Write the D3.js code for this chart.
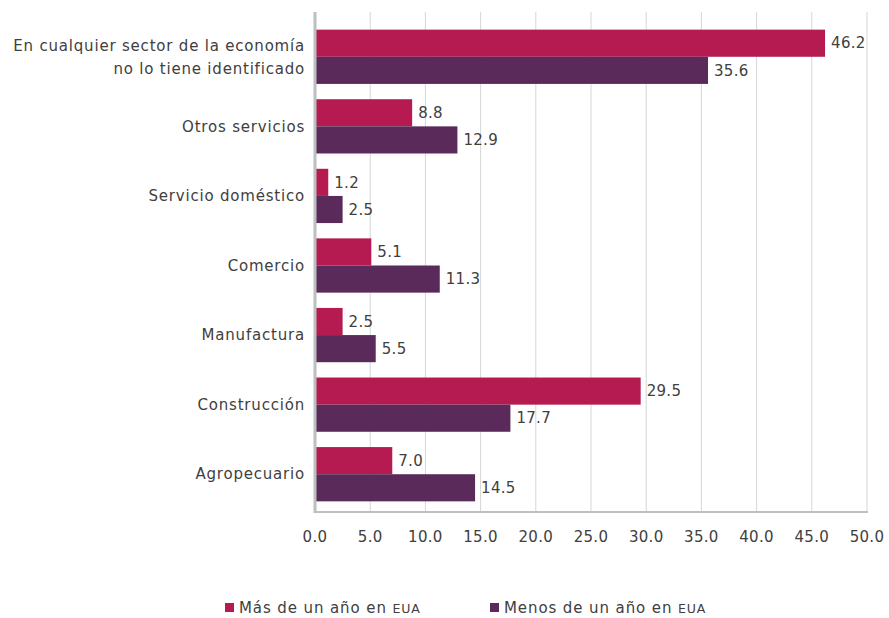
<!DOCTYPE html>
<html><head><meta charset="utf-8">
<script src="https://cdn.jsdelivr.net/npm/d3@7"></script>
<style>body{margin:0;background:#fff}svg{display:block}</style>
</head><body><svg id="c" width="889" height="618"></svg>
<script>
const categories = [["En cualquier sector de la economía","no lo tiene identificado"],["Otros servicios"],["Servicio doméstico"],["Comercio"],["Manufactura"],["Construcción"],["Agropecuario"]];
const masDeUnAno = [46.2, 8.8, 1.2, 5.1, 2.5, 29.5, 7.0];
const menosDeUnAno = [35.6, 12.9, 2.5, 11.3, 5.5, 17.7, 14.5];
const seriesNames = ["Más de un año en ", "Menos de un año en "];
const colors = ["#b51b50", "#5a2a5a"];
const ticks = [0,5,10,15,20,25,30,35,40,45,50];

const svg = d3.select("#c");
const font = "'DejaVu Sans', sans-serif";
const x = d3.scaleLinear().domain([0,50]).range([315,867]);
const y = d3.scaleBand().domain(d3.range(categories.length)).range([22,509]).paddingInner(0.22).paddingOuter(0.11);
const sub = d3.scaleBand().domain([0,1]).range([0,y.bandwidth()]);

// gridlines
svg.append("g").selectAll("line").data(ticks.slice(1)).join("line")
  .attr("x1",d=>x(d)).attr("x2",d=>x(d)).attr("y1",12).attr("y2",512)
  .attr("stroke","#d6d6d6").attr("stroke-width",1);

const series = [masDeUnAno, menosDeUnAno];
series.forEach((vals,si)=>{
  const g = svg.append("g");
  g.selectAll("rect").data(vals).join("rect")
    .attr("x",x(0)).attr("y",(d,i)=>y(i)+sub(si))
    .attr("width",d=>x(d)-x(0)).attr("height",sub.bandwidth())
    .attr("fill",colors[si]);
  g.selectAll("text").data(vals).join("text")
    .attr("x",d=>x(d)+6).attr("y",(d,i)=>y(i)+sub(si)+sub.bandwidth()/2)
    .attr("dy","0.35em").attr("font-family",font).attr("font-size",15).attr("letter-spacing",0.3).attr("fill","#404040")
    .text(d=>d.toFixed(1));
});

// axis lines
svg.append("line").attr("x1",315).attr("x2",315).attr("y1",12).attr("y2",513).attr("stroke","#bcc0c0").attr("stroke-width",3);
svg.append("line").attr("x1",315).attr("x2",868).attr("y1",512).attr("y2",512).attr("stroke","#bcc0c0").attr("stroke-width",2);

// category labels
categories.forEach((lines,i)=>{
  const cy = y(i)+y.bandwidth()/2;
  const t = svg.append("text").attr("text-anchor","end").attr("font-family",font).attr("font-size",15)
    .attr("letter-spacing",0.8).attr("fill","#404040");
  const n = lines.length;
  lines.forEach((l,k)=>{
    t.append("tspan").attr("x",305).attr("y",cy+(k-(n-1)/2)*23).attr("dy","0.35em").text(l);
  });
});

// x tick labels
svg.append("g").selectAll("text").data(ticks).join("text")
  .attr("x",d=>x(d)).attr("y",537).attr("dy","0.35em").attr("text-anchor","middle")
  .attr("font-family",font).attr("font-size",15).attr("letter-spacing",0.3).attr("fill","#404040").text(d=>d.toFixed(1));

// legend
const legX = [225, 490];
seriesNames.forEach((nm,i)=>{
  svg.append("rect").attr("x",legX[i]).attr("y",603).attr("width",9).attr("height",9).attr("fill",colors[i]);
  const t = svg.append("text").attr("x",legX[i]+14).attr("y",608).attr("dy","0.35em")
    .attr("font-family",font).attr("font-size",15).attr("letter-spacing",0.9).attr("fill","#404040");
  t.append("tspan").text(nm);
  t.append("tspan").attr("font-size",12.5).text("EUA");
});
</script></body></html>
